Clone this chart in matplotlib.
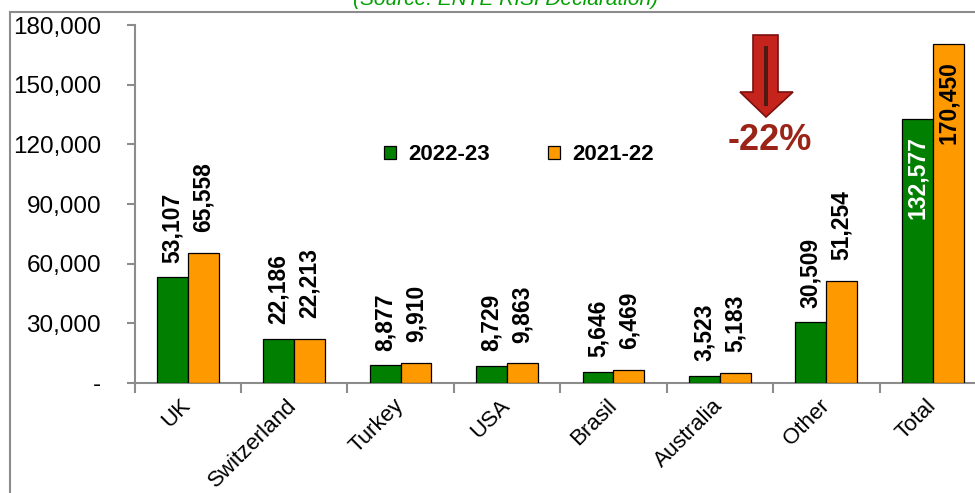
import matplotlib
matplotlib.use('Agg')
import matplotlib.pyplot as plt
import numpy as np
from matplotlib.patches import Patch, Polygon, Rectangle
from matplotlib.ticker import FixedLocator, FuncFormatter
from matplotlib.lines import Line2D

#%% data
countries = ['UK', 'Switzerland', 'Turkey', 'USA', 'Brasil', 'Australia', 'Other', 'Total']
val_2223 = [53107, 22186, 8877, 8729, 5646, 3523, 30509, 132577]
val_2122 = [65558, 22213, 9910, 9863, 6469, 5183, 51254, 170450]
series_names = ['2022-23', '2021-22']
change_label = '-22%'
source_text = '(Source: ENTE RISI Declaration)'

#%% style
plt.rcParams['font.family'] = ['Liberation Sans', 'DejaVu Sans']
W, H = 975, 493
c_green = '#007F00'
c_orange = '#FF9900'
c_axis = '#8C8C8C'

def px(x, y):
    # pixel coords (top-left origin) to figure fraction
    return x / W, (H - y) / H

fig = plt.figure(figsize=(W / 100, H / 100), dpi=100)
ax = fig.add_axes([134.5 / W, (H - 383) / H, 851.5 / W, 358 / H])

x = np.arange(len(countries))
bw = 0.29
ax.bar(x - bw / 2, val_2223, bw, color=c_green, edgecolor='black', linewidth=0.9, zorder=3)
ax.bar(x + bw / 2, val_2122, bw, color=c_orange, edgecolor='black', linewidth=0.9, zorder=3)

ax.set_xlim(-0.5, len(countries) - 0.5)
ax.set_ylim(0, 180000)

# value labels
for i in range(len(countries)):
    if countries[i] == 'Total':
        ax.annotate(f'{val_2223[i]:,}', (x[i] - bw / 2, val_2223[i]), xytext=(0, -12),
                    textcoords='offset points', rotation=90, ha='center', va='top',
                    fontsize=16.5, fontweight='bold', color='white', zorder=5)
        ax.annotate(f'{val_2122[i]:,}', (x[i] + bw / 2, val_2122[i]), xytext=(0, -12),
                    textcoords='offset points', rotation=90, ha='center', va='top',
                    fontsize=16.5, fontweight='bold', color='black', zorder=5)
    else:
        ax.annotate(f'{val_2223[i]:,}', (x[i] - bw / 2, val_2223[i]), xytext=(0, 10.5),
                    textcoords='offset points', rotation=90, ha='center', va='bottom',
                    fontsize=16.5, fontweight='bold', color='black')
        ax.annotate(f'{val_2122[i]:,}', (x[i] + bw / 2, val_2122[i]), xytext=(0, 15),
                    textcoords='offset points', rotation=90, ha='center', va='bottom',
                    fontsize=16.5, fontweight='bold', color='black')

# axes styling
for s in ['top', 'right']:
    ax.spines[s].set_visible(False)
ax.spines['left'].set_color(c_axis)
ax.spines['bottom'].set_color(c_axis)
ax.spines['left'].set_linewidth(1.5)
ax.spines['bottom'].set_linewidth(1.5)

ax.set_yticks(np.arange(0, 180001, 30000))
ax.yaxis.set_major_formatter(FuncFormatter(lambda v, p: '-' if v == 0 else f'{int(v):,}'))
ax.tick_params(axis='y', direction='out', length=6, width=1.5, color=c_axis,
               labelsize=17.5, pad=18)

ax.xaxis.set_major_locator(FixedLocator(np.arange(-0.5, len(countries), 1.0)))
ax.xaxis.set_major_formatter(FuncFormatter(lambda v, p: ''))
ax.xaxis.set_minor_locator(FixedLocator(x))
ax.set_xticklabels(countries, minor=True, rotation=45, ha='right', va='center',
                   rotation_mode='anchor', fontsize=16)
ax.tick_params(axis='x', which='major', direction='out', length=7, width=1.5, color=c_axis)
ax.tick_params(axis='x', which='minor', length=0, pad=14)

# legend
handles = [Patch(facecolor=c_green, edgecolor='black', linewidth=0.9),
           Patch(facecolor=c_orange, edgecolor='black', linewidth=0.9)]
fig.legend(handles, series_names, loc='center', bbox_to_anchor=px(519, 155), ncol=2,
           frameon=False, prop={'weight': 'bold', 'size': 16}, handlelength=0.55,
           handleheight=0.55, handletextpad=0.55, columnspacing=2.6)

# down arrow
arrow_pts = [(753, 35), (778, 35), (778, 92), (793, 92), (766, 117), (740, 92), (753, 92)]
fig.patches.append(Polygon([px(a, b) for a, b in arrow_pts], closed=True,
                           transform=fig.transFigure, facecolor='#C4241B',
                           edgecolor='#7A1010', linewidth=1.2))
fig.patches.append(Rectangle(px(764, 106), 4 / W, 60 / H, transform=fig.transFigure,
                             facecolor='#4E1A12', edgecolor='none'))
fig.text(*px(770, 140), change_label, ha='center', va='center', fontsize=26,
         fontweight='bold', color='#9B2418')

# source (cut off at top, as in the original)
fig.text(*px(506, 5), source_text, ha='center', va='baseline', fontsize=15,
         style='italic', color='#00A000')

# outer frame
fig.add_artist(Line2D([10 / W, 1], [(H - 12) / H] * 2, transform=fig.transFigure,
                      color='#8C8C8C', linewidth=1.5))
fig.add_artist(Line2D([10 / W] * 2, [0, (H - 12) / H], transform=fig.transFigure,
                      color='#8C8C8C', linewidth=1.5))

fig.savefig('out.png', dpi=100)
